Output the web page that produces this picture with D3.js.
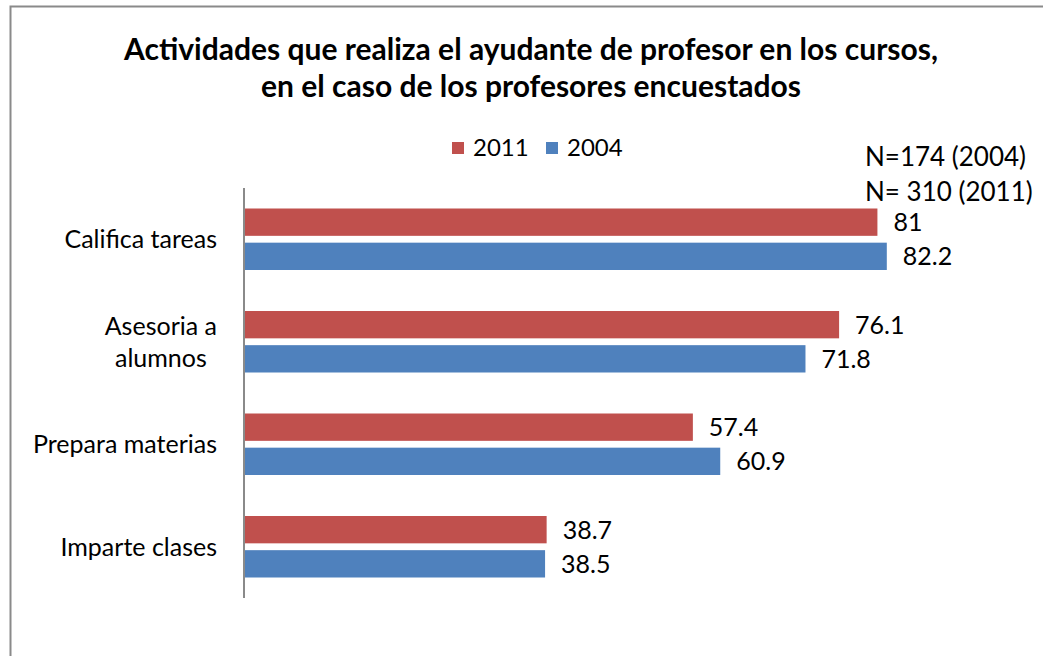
<!DOCTYPE html>
<html>
<head>
<meta charset="utf-8">
<script src="https://cdn.jsdelivr.net/npm/d3@7"></script>
<style>
  body { margin: 0; background: #fff; }
  text { font-family: Lato, "Open Sans", sans-serif; fill: #000; }
</style>
</head>
<body>
<div id="chart"></div>
<script>
var categories = ["Califica tareas", "Asesoria a alumnos", "Prepara materias", "Imparte clases"];
var categoryLines = [["Califica tareas"], ["Asesoria a", "alumnos"], ["Prepara materias"], ["Imparte clases"]];
var seriesNames = ["2011", "2004"];
var values2011 = [81, 76.1, 57.4, 38.7];
var values2004 = [82.2, 71.8, 60.9, 38.5];
var titleLines = ["Actividades que realiza el ayudante de profesor en los cursos,", "en el caso de los profesores encuestados"];
var noteLines = ["N=174 (2004)", "N= 310 (2011)"];

var colors = { "2011": "#C0504D", "2004": "#4F81BD" };

var width = 1043;
var height = 656;

var svg = d3.select("#chart").append("svg").attr("width", width).attr("height", height);

svg.append("rect").attr("width", width).attr("height", height).attr("fill", "#fff");

// chart area border (extends past the right and bottom edges)
svg.append("rect")
  .attr("x", 10.5).attr("y", 6.5)
  .attr("width", 1100).attr("height", 700)
  .attr("fill", "none")
  .attr("stroke", "#8a8a8a")
  .attr("stroke-width", 2);

// title
svg.selectAll(".title")
  .data(titleLines)
  .enter()
  .append("text")
  .attr("class", "title")
  .attr("x", 531)
  .attr("y", function (d, i) { return 60 + i * 37; })
  .attr("text-anchor", "middle")
  .style("font-weight", "bold")
  .style("font-size", "30px")
  .text(function (d) { return d; });

var x = d3.scaleLinear().domain([0, 100]).range([244, 1026]);

var y = d3.scaleBand()
  .domain(categories)
  .range([188, 598])
  .paddingInner(0.4)
  .paddingOuter(0.2);

var ySub = d3.scaleBand()
  .domain(seriesNames)
  .range([0, y.bandwidth()])
  .paddingInner(0.2);

var rows = categories.map(function (c, i) {
  return { category: c, lines: categoryLines[i], values: [
    { series: "2011", value: values2011[i] },
    { series: "2004", value: values2004[i] }
  ] };
});

// vertical axis line
var yAxis = d3.axisLeft(y).tickSize(0).tickSizeOuter(0).tickFormat("");
svg.append("g")
  .attr("class", "y-axis")
  .attr("transform", "translate(" + x(0) + ",0)")
  .call(yAxis)
  .call(function (g) {
    g.select(".domain")
      .attr("d", "M0," + (y.range()[0]) + "V" + (y.range()[1]))
      .attr("stroke", "#8a8a8a")
      .attr("stroke-width", 2);
  });

var groups = svg.selectAll(".cat")
  .data(rows)
  .enter()
  .append("g")
  .attr("class", "cat")
  .attr("transform", function (d) { return "translate(0," + y(d.category) + ")"; });

groups.selectAll("rect")
  .data(function (d) { return d.values; })
  .enter()
  .append("rect")
  .attr("x", x(0) + 1)
  .attr("y", function (d) { return ySub(d.series); })
  .attr("width", function (d) { return x(d.value) - x(0) - 1; })
  .attr("height", ySub.bandwidth())
  .attr("fill", function (d) { return colors[d.series]; });

groups.selectAll(".val")
  .data(function (d) { return d.values; })
  .enter()
  .append("text")
  .attr("class", "val")
  .attr("x", function (d) { return x(d.value) + 16; })
  .attr("y", function (d) { return ySub(d.series) + ySub.bandwidth() / 2 + 9; })
  .style("font-size", "25px")
  .text(function (d) { return d.value; });

// category labels, wrapped lines centred on the widest line, block right-aligned
var labelRight = 217;
groups.each(function (d) {
  var g = d3.select(this);
  var n = d.lines.length;
  var label = g.append("g").attr("class", "cat-label");
  var texts = label.selectAll("text")
    .data(d.lines)
    .enter()
    .append("text")
    .attr("y", function (l, i) { return y.bandwidth() / 2 + 9 + (i - (n - 1) / 2) * 31.5; })
    .attr("text-anchor", "middle")
    .style("font-size", "25px")
    .text(function (l) { return l; });
  var maxW = d3.max(texts.nodes(), function (t) { return t.getComputedTextLength(); });
  texts.attr("x", labelRight - maxW / 2);
});

// legend
var legend = svg.append("g").attr("class", "legend");
var legendItems = legend.selectAll("g")
  .data(seriesNames)
  .enter()
  .append("g")
  .attr("transform", function (d, i) { return "translate(" + (452 + i * 94) + ",142)"; });

legendItems.append("rect")
  .attr("width", 12)
  .attr("height", 12)
  .attr("fill", function (d) { return colors[d]; });

legendItems.append("text")
  .attr("x", 21)
  .attr("y", 14)
  .style("font-size", "24px")
  .text(function (d) { return d; });

// sample size note
svg.selectAll(".note")
  .data(noteLines)
  .enter()
  .append("text")
  .attr("class", "note")
  .attr("x", 865)
  .attr("y", function (d, i) { return 166 + i * 35; })
  .style("font-size", "26px")
  .text(function (d) { return d; });
</script>
</body>
</html>
